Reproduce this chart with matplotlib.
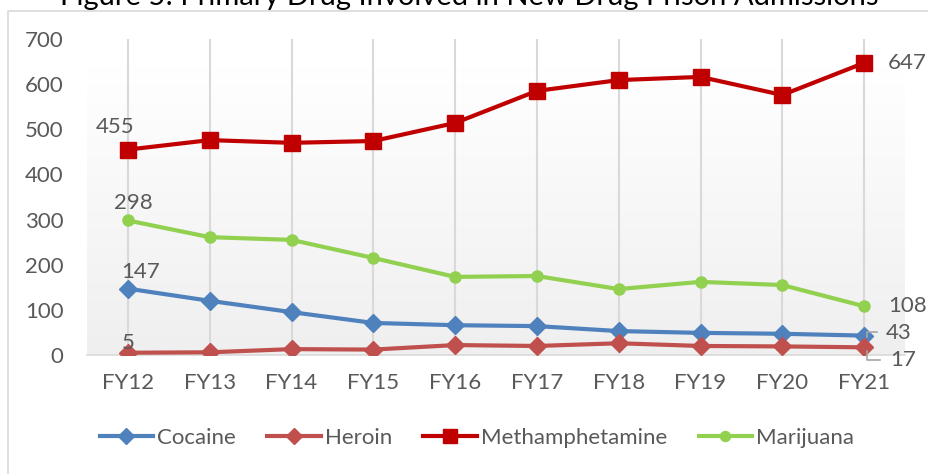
import numpy as np
import matplotlib
matplotlib.use("Agg")
import matplotlib.pyplot as plt
from matplotlib.lines import Line2D
from matplotlib.patches import Rectangle
from matplotlib.colors import LinearSegmentedColormap

plt.rcParams['font.family'] = ['Lato', 'DejaVu Sans']

categories = ["FY12", "FY13", "FY14", "FY15", "FY16", "FY17", "FY18", "FY19", "FY20", "FY21"]
cocaine = [147, 120, 95, 71, 66, 64, 53, 49, 47, 43]
heroin = [5, 6, 13, 12, 22, 20, 26, 20, 19, 17]
meth = [455, 476, 470, 474, 514, 585, 609, 616, 576, 647]
marijuana = [298, 261, 255, 215, 173, 175, 146, 162, 155, 108]
yticks = [0, 100, 200, 300, 400, 500, 600, 700]
title = "Figure 5: Primary Drug Involved in New Drug Prison Admissions"

W, H = 929, 474
fig = plt.figure(figsize=(W/100, H/100), dpi=100)
fig.patch.set_facecolor('white')

# outer chart frame
fig.patches.append(Rectangle((8/W, -0.1), 1.2, 1 - 11/H + 0.1, transform=fig.transFigure,
                             fill=False, edgecolor='#D9D9D9', linewidth=1.2))

fig.text(469/W, 1 - 5/H, title, ha='center', va='baseline', fontsize=21, color='black')

ax = fig.add_axes([87/W, 1 - 355/H, (905-87)/W, (355-39)/H])

# gradient background
grad = np.linspace(0, 1, 256).reshape(-1, 1)
cm = LinearSegmentedColormap.from_list('g', ['#EFEFEF', '#FFFFFF'])
ax.imshow(grad, aspect='auto', cmap=cm, origin='lower', extent=(-0.5, 9.5, 0, 640), zorder=0)
ax.set_xlim(-0.5, 9.5)
ax.set_ylim(0, 700)

x = np.arange(len(categories))
for xi in x:
    ax.axvline(xi, color='#D9D9D9', lw=1.5, zorder=1)

series = [
    ("Cocaine", cocaine, '#4F81BD', 'D', 9),
    ("Heroin", heroin, '#C0504D', 'D', 9),
    ("Methamphetamine", meth, '#C00000', 's', 11),
    ("Marijuana", marijuana, '#92D050', 'o', 8),
]
for name, vals, col, mk, ms in series:
    ax.plot(x, vals, color=col, lw=3, marker=mk, markersize=ms, zorder=3,
            markerfacecolor=col, markeredgecolor=col)

for s in ['top', 'right', 'left']:
    ax.spines[s].set_visible(False)
ax.spines['bottom'].set_color('#D9D9D9')
ax.spines['bottom'].set_linewidth(1.2)

ax.set_xticks(x)
ax.set_xticklabels(categories)
ax.set_yticks(yticks)
ax.tick_params(axis='both', length=0, labelsize=16, colors='#595959')
ax.tick_params(axis='x', pad=13)
ax.tick_params(axis='y', pad=17)

lab = dict(fontsize=16, color='#595959', zorder=5, clip_on=False)
ax.text(-0.16, 492, str(meth[0]), ha='center', va='baseline', **lab)
ax.text(0.07, 323, str(marijuana[0]), ha='center', va='baseline', **lab)
ax.text(0.15, 170, str(cocaine[0]), ha='center', va='baseline', **lab)
ax.text(0.01, 13, str(heroin[0]), ha='center', va='baseline', **lab)
ax.text(9.29, meth[-1], str(meth[-1]), ha='left', va='center', **lab)
ax.text(9.29, marijuana[-1], str(marijuana[-1]), ha='left', va='center', **lab)
ax.text(9.27, 49, str(cocaine[-1]), ha='left', va='center', **lab)
ax.text(9.32, -11, str(heroin[-1]), ha='left', va='center', **lab)
# leader lines
ax.plot([9.16, 9.04, 9.04], [51, 51, 40], color='#A6A6A6', lw=1.2, clip_on=False, zorder=4)
ax.plot([9.04, 9.04, 9.2], [8, -11, -11], color='#A6A6A6', lw=1.2, clip_on=False, zorder=4)

handles = [Line2D([0], [0], color=c, lw=3, marker=m, markersize=ms * 0.9, markerfacecolor=c, markeredgecolor=c)
           for _, _, c, m, ms in series]
fig.legend(handles, [s[0] for s in series], loc='center', bbox_to_anchor=(477/W, 1 - 438/H), ncol=4,
           frameon=False, fontsize=16, labelcolor='#595959', handlelength=2.4, handletextpad=0.2,
           columnspacing=1.4)

fig.savefig('out.png', dpi=100)
